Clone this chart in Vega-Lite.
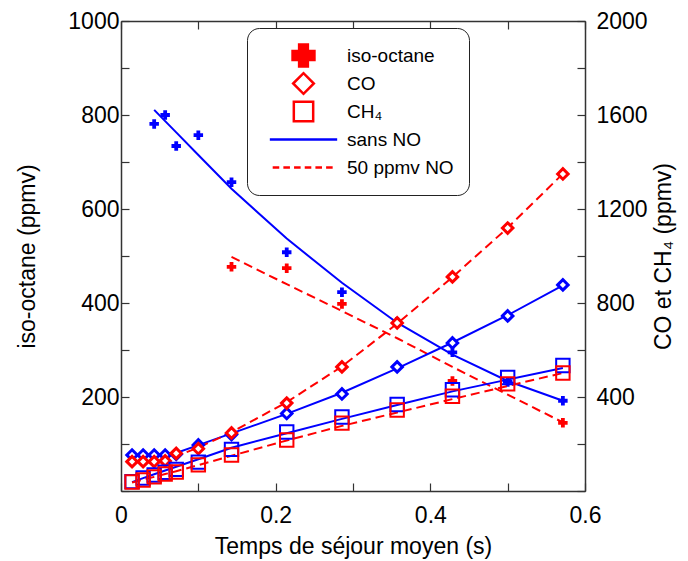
{
  "$schema": "https://vega.github.io/schema/vega-lite/v6.json",
  "width": 464,
  "height": 470,
  "autosize": {"type": "none"},
  "padding": {"left": 121, "top": 21, "right": 103, "bottom": 70},
  "background": "white",
  "config": {
    "font": "Liberation Sans",
    "view": {"stroke": null},
    "axis": {
      "grid": false,
      "labelFont": "Liberation Sans",
      "titleFont": "Liberation Sans",
      "labelFontSize": 23,
      "titleFontSize": 23,
      "titleFontWeight": "normal",
      "labelColor": "black",
      "titleColor": "black",
      "domainColor": "#333333",
      "tickColor": "#333333",
      "domainWidth": 1.5,
      "tickWidth": 1.2,
      "tickSize": -8
    }
  },
  "datasets": {
    "keys": [
      {"entry": "iso-octane"},
      {"entry": "CO"},
      {"entry": "CH₄"},
      {"entry": "sans NO"},
      {"entry": "50 ppmv NO"}
    ],
    "pts": [
      {"species": "iso-octane", "cond": "sans NO", "t": 0.0429, "value": 781},
      {"species": "iso-octane", "cond": "sans NO", "t": 0.0571, "value": 800},
      {"species": "iso-octane", "cond": "sans NO", "t": 0.0714, "value": 734},
      {"species": "iso-octane", "cond": "sans NO", "t": 0.1, "value": 757},
      {"species": "iso-octane", "cond": "sans NO", "t": 0.1429, "value": 657},
      {"species": "iso-octane", "cond": "sans NO", "t": 0.2143, "value": 508},
      {"species": "iso-octane", "cond": "sans NO", "t": 0.2857, "value": 423},
      {"species": "iso-octane", "cond": "sans NO", "t": 0.3571, "value": 360},
      {"species": "iso-octane", "cond": "sans NO", "t": 0.4286, "value": 295},
      {"species": "iso-octane", "cond": "sans NO", "t": 0.5, "value": 232},
      {"species": "iso-octane", "cond": "sans NO", "t": 0.5714, "value": 192},
      {"species": "iso-octane", "cond": "50 ppmv NO", "t": 0.1429, "value": 477},
      {"species": "iso-octane", "cond": "50 ppmv NO", "t": 0.2143, "value": 474},
      {"species": "iso-octane", "cond": "50 ppmv NO", "t": 0.2857, "value": 398},
      {"species": "iso-octane", "cond": "50 ppmv NO", "t": 0.4286, "value": 234},
      {"species": "iso-octane", "cond": "50 ppmv NO", "t": 0.5714, "value": 145},
      {"species": "CO", "cond": "sans NO", "t": 0.0143, "value": 153},
      {"species": "CO", "cond": "sans NO", "t": 0.0286, "value": 153},
      {"species": "CO", "cond": "sans NO", "t": 0.0429, "value": 153},
      {"species": "CO", "cond": "sans NO", "t": 0.0571, "value": 153},
      {"species": "CO", "cond": "sans NO", "t": 0.0714, "value": 156},
      {"species": "CO", "cond": "sans NO", "t": 0.1, "value": 196},
      {"species": "CO", "cond": "sans NO", "t": 0.1429, "value": 240},
      {"species": "CO", "cond": "sans NO", "t": 0.2143, "value": 330},
      {"species": "CO", "cond": "sans NO", "t": 0.2857, "value": 413},
      {"species": "CO", "cond": "sans NO", "t": 0.3571, "value": 528},
      {"species": "CO", "cond": "sans NO", "t": 0.4286, "value": 630},
      {"species": "CO", "cond": "sans NO", "t": 0.5, "value": 745},
      {"species": "CO", "cond": "sans NO", "t": 0.5714, "value": 877},
      {"species": "CO", "cond": "50 ppmv NO", "t": 0.0143, "value": 125},
      {"species": "CO", "cond": "50 ppmv NO", "t": 0.0286, "value": 125},
      {"species": "CO", "cond": "50 ppmv NO", "t": 0.0429, "value": 125},
      {"species": "CO", "cond": "50 ppmv NO", "t": 0.0571, "value": 128},
      {"species": "CO", "cond": "50 ppmv NO", "t": 0.0714, "value": 160},
      {"species": "CO", "cond": "50 ppmv NO", "t": 0.1, "value": 180},
      {"species": "CO", "cond": "50 ppmv NO", "t": 0.1429, "value": 247},
      {"species": "CO", "cond": "50 ppmv NO", "t": 0.2143, "value": 374},
      {"species": "CO", "cond": "50 ppmv NO", "t": 0.2857, "value": 528},
      {"species": "CO", "cond": "50 ppmv NO", "t": 0.3571, "value": 715},
      {"species": "CO", "cond": "50 ppmv NO", "t": 0.4286, "value": 911},
      {"species": "CO", "cond": "50 ppmv NO", "t": 0.5, "value": 1119},
      {"species": "CO", "cond": "50 ppmv NO", "t": 0.5714, "value": 1349},
      {"species": "CH₄", "cond": "sans NO", "t": 0.0143, "value": 40},
      {"species": "CH₄", "cond": "sans NO", "t": 0.0286, "value": 55},
      {"species": "CH₄", "cond": "sans NO", "t": 0.0429, "value": 68},
      {"species": "CH₄", "cond": "sans NO", "t": 0.0571, "value": 80},
      {"species": "CH₄", "cond": "sans NO", "t": 0.0714, "value": 92},
      {"species": "CH₄", "cond": "sans NO", "t": 0.1, "value": 123},
      {"species": "CH₄", "cond": "sans NO", "t": 0.1429, "value": 177},
      {"species": "CH₄", "cond": "sans NO", "t": 0.2143, "value": 251},
      {"species": "CH₄", "cond": "sans NO", "t": 0.2857, "value": 315},
      {"species": "CH₄", "cond": "sans NO", "t": 0.3571, "value": 368},
      {"species": "CH₄", "cond": "sans NO", "t": 0.4286, "value": 431},
      {"species": "CH₄", "cond": "sans NO", "t": 0.5, "value": 483},
      {"species": "CH₄", "cond": "sans NO", "t": 0.5714, "value": 534},
      {"species": "CH₄", "cond": "50 ppmv NO", "t": 0.0143, "value": 38},
      {"species": "CH₄", "cond": "50 ppmv NO", "t": 0.0286, "value": 47},
      {"species": "CH₄", "cond": "50 ppmv NO", "t": 0.0429, "value": 60},
      {"species": "CH₄", "cond": "50 ppmv NO", "t": 0.0571, "value": 72},
      {"species": "CH₄", "cond": "50 ppmv NO", "t": 0.0714, "value": 81},
      {"species": "CH₄", "cond": "50 ppmv NO", "t": 0.1, "value": 111},
      {"species": "CH₄", "cond": "50 ppmv NO", "t": 0.1429, "value": 153},
      {"species": "CH₄", "cond": "50 ppmv NO", "t": 0.2143, "value": 217},
      {"species": "CH₄", "cond": "50 ppmv NO", "t": 0.2857, "value": 289},
      {"species": "CH₄", "cond": "50 ppmv NO", "t": 0.3571, "value": 345},
      {"species": "CH₄", "cond": "50 ppmv NO", "t": 0.4286, "value": 403},
      {"species": "CH₄", "cond": "50 ppmv NO", "t": 0.5, "value": 456},
      {"species": "CH₄", "cond": "50 ppmv NO", "t": 0.5714, "value": 502}
    ],
    "fits": [
      {"species": "iso-octane", "cond": "sans NO", "t": 0.0429, "value": 811},
      {"species": "iso-octane", "cond": "sans NO", "t": 0.0571, "value": 787},
      {"species": "iso-octane", "cond": "sans NO", "t": 0.0714, "value": 763},
      {"species": "iso-octane", "cond": "sans NO", "t": 0.1, "value": 715},
      {"species": "iso-octane", "cond": "sans NO", "t": 0.1429, "value": 643},
      {"species": "iso-octane", "cond": "sans NO", "t": 0.2143, "value": 537},
      {"species": "iso-octane", "cond": "sans NO", "t": 0.2857, "value": 443},
      {"species": "iso-octane", "cond": "sans NO", "t": 0.3571, "value": 358},
      {"species": "iso-octane", "cond": "sans NO", "t": 0.4286, "value": 290},
      {"species": "iso-octane", "cond": "sans NO", "t": 0.5, "value": 234},
      {"species": "iso-octane", "cond": "sans NO", "t": 0.5714, "value": 192},
      {"species": "iso-octane", "cond": "50 ppmv NO", "t": 0.1429, "value": 498},
      {"species": "iso-octane", "cond": "50 ppmv NO", "t": 0.2143, "value": 440},
      {"species": "iso-octane", "cond": "50 ppmv NO", "t": 0.2857, "value": 383},
      {"species": "iso-octane", "cond": "50 ppmv NO", "t": 0.3571, "value": 325},
      {"species": "iso-octane", "cond": "50 ppmv NO", "t": 0.4286, "value": 264},
      {"species": "iso-octane", "cond": "50 ppmv NO", "t": 0.5, "value": 205},
      {"species": "iso-octane", "cond": "50 ppmv NO", "t": 0.5714, "value": 146},
      {"species": "CO", "cond": "sans NO", "t": 0.0143, "value": 150},
      {"species": "CO", "cond": "sans NO", "t": 0.0286, "value": 152},
      {"species": "CO", "cond": "sans NO", "t": 0.0429, "value": 154},
      {"species": "CO", "cond": "sans NO", "t": 0.0571, "value": 157},
      {"species": "CO", "cond": "sans NO", "t": 0.0714, "value": 162},
      {"species": "CO", "cond": "sans NO", "t": 0.1, "value": 195},
      {"species": "CO", "cond": "sans NO", "t": 0.1429, "value": 245},
      {"species": "CO", "cond": "sans NO", "t": 0.2143, "value": 328},
      {"species": "CO", "cond": "sans NO", "t": 0.2857, "value": 418},
      {"species": "CO", "cond": "sans NO", "t": 0.3571, "value": 522},
      {"species": "CO", "cond": "sans NO", "t": 0.4286, "value": 632},
      {"species": "CO", "cond": "sans NO", "t": 0.5, "value": 748},
      {"species": "CO", "cond": "sans NO", "t": 0.5714, "value": 875},
      {"species": "CO", "cond": "50 ppmv NO", "t": 0.0143, "value": 125},
      {"species": "CO", "cond": "50 ppmv NO", "t": 0.0286, "value": 126},
      {"species": "CO", "cond": "50 ppmv NO", "t": 0.0429, "value": 128},
      {"species": "CO", "cond": "50 ppmv NO", "t": 0.0571, "value": 133},
      {"species": "CO", "cond": "50 ppmv NO", "t": 0.0714, "value": 148},
      {"species": "CO", "cond": "50 ppmv NO", "t": 0.1, "value": 185},
      {"species": "CO", "cond": "50 ppmv NO", "t": 0.1429, "value": 250},
      {"species": "CO", "cond": "50 ppmv NO", "t": 0.2143, "value": 378},
      {"species": "CO", "cond": "50 ppmv NO", "t": 0.2857, "value": 530},
      {"species": "CO", "cond": "50 ppmv NO", "t": 0.3571, "value": 712},
      {"species": "CO", "cond": "50 ppmv NO", "t": 0.4286, "value": 910},
      {"species": "CO", "cond": "50 ppmv NO", "t": 0.5, "value": 1120},
      {"species": "CO", "cond": "50 ppmv NO", "t": 0.5714, "value": 1350},
      {"species": "CH₄", "cond": "sans NO", "t": 0.0143, "value": 38},
      {"species": "CH₄", "cond": "sans NO", "t": 0.0286, "value": 55},
      {"species": "CH₄", "cond": "sans NO", "t": 0.0429, "value": 71},
      {"species": "CH₄", "cond": "sans NO", "t": 0.0571, "value": 87},
      {"species": "CH₄", "cond": "sans NO", "t": 0.0714, "value": 103},
      {"species": "CH₄", "cond": "sans NO", "t": 0.1, "value": 135},
      {"species": "CH₄", "cond": "sans NO", "t": 0.1429, "value": 184},
      {"species": "CH₄", "cond": "sans NO", "t": 0.2143, "value": 246},
      {"species": "CH₄", "cond": "sans NO", "t": 0.2857, "value": 307},
      {"species": "CH₄", "cond": "sans NO", "t": 0.3571, "value": 366},
      {"species": "CH₄", "cond": "sans NO", "t": 0.4286, "value": 424},
      {"species": "CH₄", "cond": "sans NO", "t": 0.5, "value": 474},
      {"species": "CH₄", "cond": "sans NO", "t": 0.5714, "value": 523},
      {"species": "CH₄", "cond": "50 ppmv NO", "t": 0.0143, "value": 36},
      {"species": "CH₄", "cond": "50 ppmv NO", "t": 0.0286, "value": 48},
      {"species": "CH₄", "cond": "50 ppmv NO", "t": 0.0429, "value": 60},
      {"species": "CH₄", "cond": "50 ppmv NO", "t": 0.0571, "value": 72},
      {"species": "CH₄", "cond": "50 ppmv NO", "t": 0.0714, "value": 84},
      {"species": "CH₄", "cond": "50 ppmv NO", "t": 0.1, "value": 110},
      {"species": "CH₄", "cond": "50 ppmv NO", "t": 0.1429, "value": 150},
      {"species": "CH₄", "cond": "50 ppmv NO", "t": 0.2143, "value": 215},
      {"species": "CH₄", "cond": "50 ppmv NO", "t": 0.2857, "value": 277},
      {"species": "CH₄", "cond": "50 ppmv NO", "t": 0.3571, "value": 334},
      {"species": "CH₄", "cond": "50 ppmv NO", "t": 0.4286, "value": 391},
      {"species": "CH₄", "cond": "50 ppmv NO", "t": 0.5, "value": 447},
      {"species": "CH₄", "cond": "50 ppmv NO", "t": 0.5714, "value": 502}
    ]
  },
  "layer": [
    {
      "encoding": {
        "x": {
          "field": "t", "type": "quantitative",
          "scale": {"domain": [0, 0.6], "nice": false, "zero": false},
          "axis": {
            "orient": "bottom",
            "title": "Temps de séjour moyen (s)",
            "values": [0, 0.1, 0.2, 0.3, 0.4, 0.5, 0.6],
            "labelExpr": "round(datum.value*10)%2===0 ? format(datum.value,'~g') : ''",
            "labelPadding": 21,
            "titlePadding": 8,
            "labelFlush": false
          }
        },
        "y": {
          "field": "value", "type": "quantitative",
          "scale": {"domain": [0, 1000], "nice": false},
          "axis": {
            "orient": "left",
            "title": "iso-octane (ppmv)",
            "values": [0, 100, 200, 300, 400, 500, 600, 700, 800, 900, 1000],
            "labelExpr": "datum.value>0 && datum.value%200===0 ? format(datum.value,'d') : ''",
            "labelPadding": 10,
            "titlePadding": 28,
            "labelFlush": false
          }
        }
      },
      "layer": [
        {
          "data": {"name": "fits"},
          "transform": [{"filter": "datum.species === 'iso-octane' && datum.cond === 'sans NO'"}],
          "mark": {"type": "line", "strokeWidth": 2, "color": "#0000ff"},
          "encoding": {}
        },
        {
          "data": {"name": "fits"},
          "transform": [{"filter": "datum.species === 'iso-octane' && datum.cond === '50 ppmv NO'"}],
          "mark": {"type": "line", "strokeWidth": 2, "strokeDash": [9, 5], "color": "#ff0000"},
          "encoding": {}
        },
        {
          "data": {"name": "pts"},
          "transform": [{"filter": "datum.species === 'iso-octane'"}],
          "mark": {"type": "point", "shape": "cross", "filled": true, "size": 90, "opacity": 1, "strokeWidth": 0},
          "encoding": {
            "color": {
              "field": "cond", "type": "nominal",
              "scale": {"domain": ["sans NO", "50 ppmv NO"], "range": ["#0000ff", "#ff0000"]},
              "legend": null
            }
          }
        },
        {
          "data": {"name": "keys"},
          "mark": {"type": "point", "filled": true, "opacity": 1},
          "encoding": {
            "shape": {
              "field": "entry", "type": "nominal",
              "scale": {
                "domain": ["iso-octane", "CO", "CH₄", "sans NO", "50 ppmv NO"],
                "range": ["cross", "diamond", "square", "M0,-1.2M0,1.2M-3.75,0H3.75", "M0,-1.2M0,1.2M-3.75,0H-2.95M-2.45,0H-1.65M-1.15,0H-0.35M0.15,0H0.95M1.45,0H2.25M2.75,0H3.55"]
              },
              "legend": {
                "title": null,
                "orient": "none",
                "legendX": 126,
                "legendY": 7,
                "strokeColor": "#222222",
                "cornerRadius": 12,
                "fillColor": "white",
                "padding": 15,
                "symbolOffset": 29,
                "labelOffset": 31,
                "rowPadding": 3,
                "clipHeight": 25,
                "symbolStrokeWidth": 2.5,
                "labelFont": "Liberation Sans",
                "labelFontSize": 19,
                "labelColor": "black",
                "labelLimit": 300
              }
            },
            "fill": {
              "field": "entry", "type": "nominal",
              "scale": {
                "domain": ["iso-octane", "CO", "CH₄", "sans NO", "50 ppmv NO"],
                "range": ["#ff0000", "#ffffff", "transparent", "transparent", "transparent"]
              }
            },
            "stroke": {
              "field": "entry", "type": "nominal",
              "scale": {
                "domain": ["iso-octane", "CO", "CH₄", "sans NO", "50 ppmv NO"],
                "range": ["#ff0000", "#ff0000", "#ff0000", "#0000ff", "#ff0000"]
              }
            },
            "size": {
              "field": "entry", "type": "ordinal",
              "scale": {
                "domain": ["iso-octane", "CO", "CH₄", "sans NO", "50 ppmv NO"],
                "range": [480, 270, 441, 400, 400]
              }
            }
          }
        }
      ]
    },
    {
      "encoding": {
        "x": {
          "field": "t", "type": "quantitative",
          "scale": {"domain": [0, 0.6], "nice": false, "zero": false},
          "axis": {
            "orient": "top",
            "title": null,
            "labels": false,
            "values": [0, 0.1, 0.2, 0.3, 0.4, 0.5, 0.6]
          }
        },
        "y": {
          "field": "value", "type": "quantitative",
          "scale": {"domain": [0, 2000], "nice": false},
          "axis": {
            "orient": "right",
            "title": "CO et CH₄ (ppmv)",
            "titleAngle": 270,
            "values": [0, 200, 400, 600, 800, 1000, 1200, 1400, 1600, 1800, 2000],
            "labelExpr": "datum.value>0 && datum.value%400===0 ? format(datum.value,'d') : ''",
            "labelPadding": 19,
            "titlePadding": 28,
            "labelFlush": false
          }
        },
        "color": {
          "field": "cond", "type": "nominal",
          "scale": {"domain": ["sans NO", "50 ppmv NO"], "range": ["#0000ff", "#ff0000"]},
          "legend": null
        }
      },
      "layer": [
        {
          "data": {"name": "fits"},
          "transform": [{"filter": "datum.species !== 'iso-octane' && datum.cond === 'sans NO'"}],
          "mark": {"type": "line", "strokeWidth": 2},
          "encoding": {"detail": {"field": "species", "type": "nominal"}}
        },
        {
          "data": {"name": "fits"},
          "transform": [{"filter": "datum.species !== 'iso-octane' && datum.cond === '50 ppmv NO'"}],
          "mark": {"type": "line", "strokeWidth": 2, "strokeDash": [9, 5]},
          "encoding": {"detail": {"field": "species", "type": "nominal"}}
        },
        {
          "data": {"name": "pts"},
          "transform": [{"filter": "datum.species === 'CO'"}],
          "mark": {"type": "point", "shape": "diamond", "filled": false, "fill": "white", "fillOpacity": 1, "size": 110, "opacity": 1, "strokeWidth": 3},
          "encoding": {}
        },
        {
          "data": {"name": "pts"},
          "transform": [{"filter": "datum.species === 'CH₄'"}],
          "mark": {"type": "point", "shape": "square", "filled": false, "size": 180, "opacity": 1, "strokeWidth": 2},
          "encoding": {}
        }
      ]
    }
  ],
  "resolve": {
    "scale": {"y": "independent"},
    "axis": {"x": "independent", "y": "independent"}
  }
}
